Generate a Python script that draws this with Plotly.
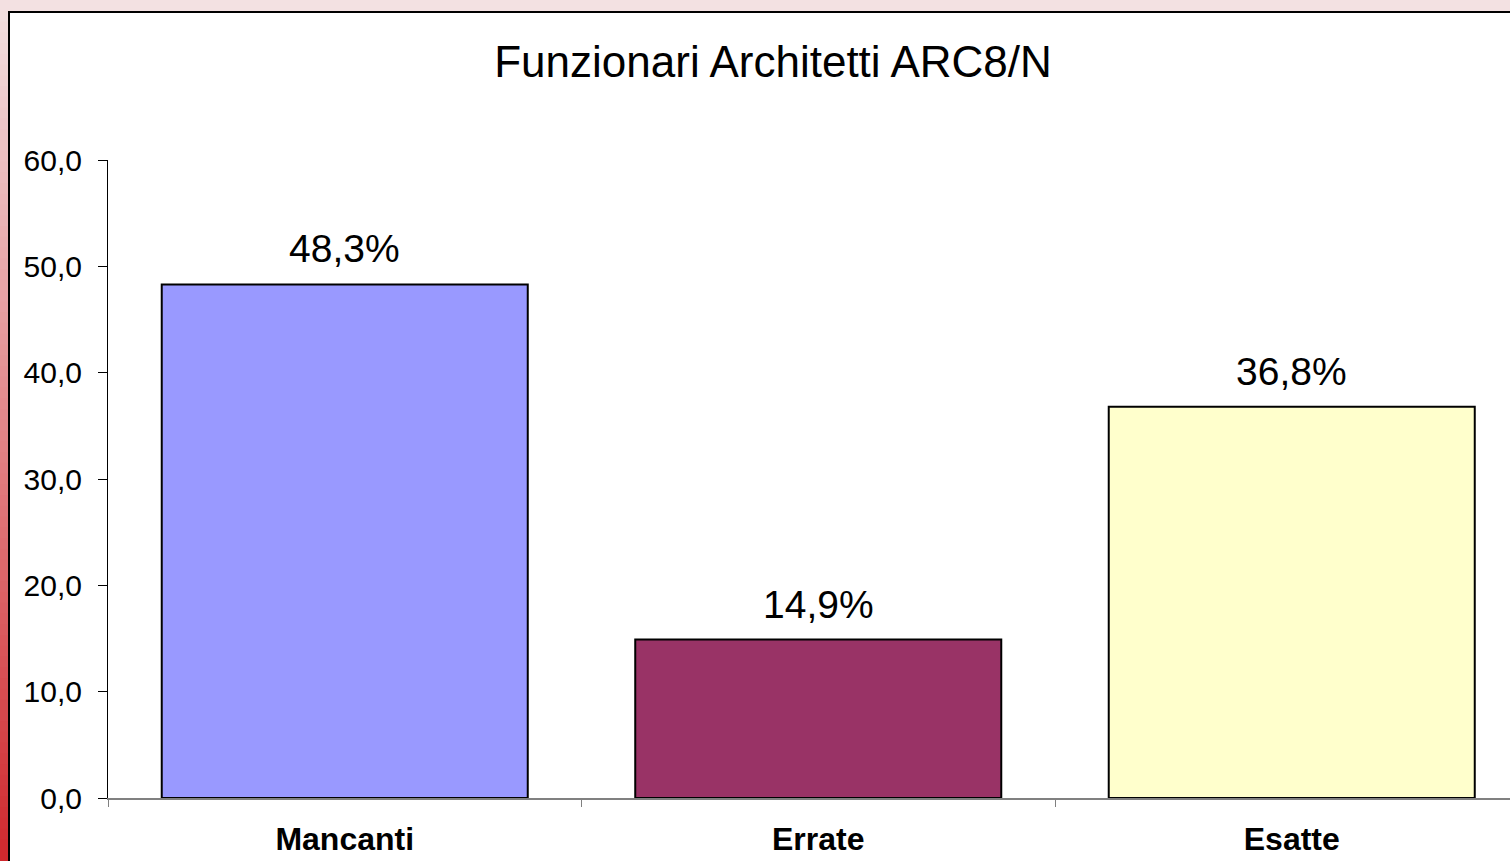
import plotly.graph_objects as go

categories = ["Mancanti", "Errate", "Esatte"]
values = [48.3, 14.9, 36.8]
bar_colors = ["#9999FF", "#993366", "#FFFFCC"]
title_text = "Funzionari Architetti ARC8/N"

W, H = 1510, 861
L, R, T, B = 108, 0, 160, 63
pw, ph = W - L - R, H - T - B

def px_x(px):
    return (px - L) / pw

def px_y(py):
    return (H - B - py) / ph

shapes = []
# left gradient strip
N = 80
c0 = (243, 225, 226)
c1 = (208, 40, 45)
for i in range(N):
    y0 = H * i / N
    y1 = H * (i + 1) / N
    t = (i + 0.5) / N
    col = tuple(int(round(c0[k] + (c1[k] - c0[k]) * t)) for k in range(3))
    shapes.append(dict(type="rect", xref="paper", yref="paper",
                       x0=px_x(-2), x1=px_x(10), y0=px_y(y1 + 1), y1=px_y(y0),
                       fillcolor="rgb(%d,%d,%d)" % col, line=dict(width=0), layer="below"))
# white frame
shapes.append(dict(type="rect", xref="paper", yref="paper",
                   x0=px_x(9), x1=px_x(W + 5), y0=px_y(H + 5), y1=px_y(12),
                   fillcolor="white", line=dict(color="black", width=2), layer="below"))

fig = go.Figure()
fig.add_trace(go.Bar(
    x=categories, y=values, width=0.773,
    marker=dict(color=bar_colors, line=dict(color="black", width=2)),
    hoverinfo="skip",
))

annotations = []
for c, v in zip(categories, values):
    annotations.append(dict(x=c, y=v, xref="x", yref="y",
                            text=("%.1f%%" % v).replace(".", ","),
                            showarrow=False, yanchor="bottom", yshift=12,
                            font=dict(family="Liberation Sans, Arial", size=39, color="black")))

fig.update_layout(
    width=W, height=H,
    margin=dict(l=L, r=R, t=T, b=B, autoexpand=False),
    paper_bgcolor="rgb(243,225,226)",
    plot_bgcolor="rgba(0,0,0,0)",
    separators=",.",
    showlegend=False,
    shapes=shapes,
    annotations=annotations,
    title=dict(text=title_text, x=773 / W, xanchor="center", y=1 - 62 / H, yanchor="middle",
               font=dict(family="Liberation Sans, Arial", size=44, color="black")),
    font=dict(family="Liberation Sans, Arial", color="black"),
    bargap=0.227,
)
fig.update_xaxes(
    range=[-0.5, -0.5 + pw / 473.5],
    showline=True, linecolor="#808080", linewidth=2,
    ticks="outside", ticklen=7, tickcolor="#808080", tickwidth=1,
    tickson="boundaries", showgrid=False, zeroline=False,
    tickfont=dict(family="Liberation Sans, Arial", size=32, color="black", weight="bold"),
    ticklabelstandoff=12,
)
fig.update_yaxes(
    range=[0, 60], dtick=10, tickformat=".1f",
    showline=True, linecolor="black", linewidth=1,
    ticks="outside", ticklen=9, tickcolor="black", tickwidth=1,
    showgrid=False, zeroline=False,
    tickfont=dict(family="Liberation Sans, Arial", size=30, color="black"),
    ticklabelstandoff=10,
)

fig.write_html("out.html", config={"displayModeBar": False},
               post_script="document.body.style.margin='0';document.body.style.overflow='hidden';")
